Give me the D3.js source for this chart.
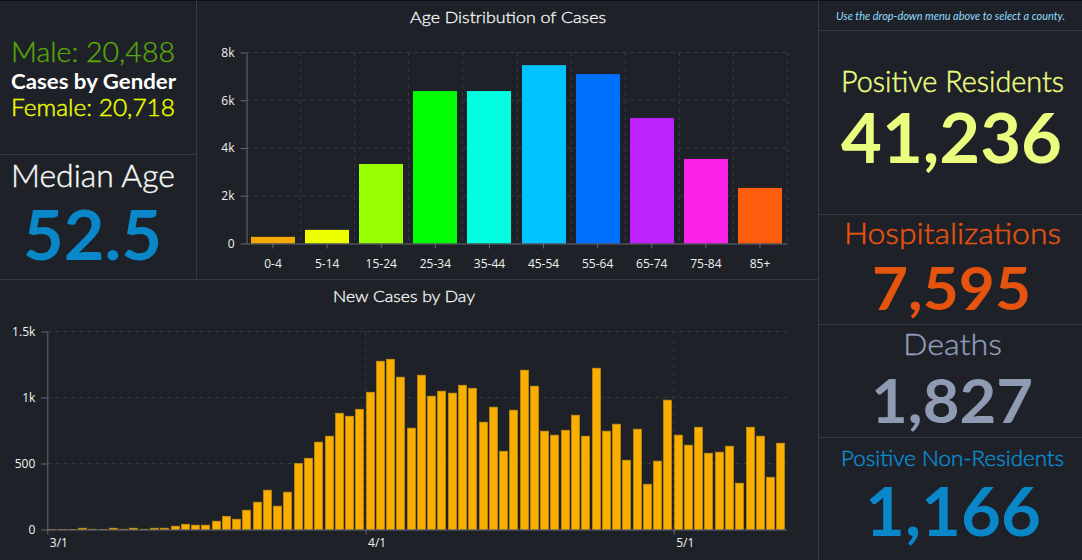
<!DOCTYPE html>
<html>
<head>
<meta charset="utf-8">
<script src="https://cdn.jsdelivr.net/npm/d3@7"></script>
<style>
  html, body { margin: 0; padding: 0; background: #1f2129; overflow: hidden; }
  svg { display: block; font-family: Lato, "Open Sans", sans-serif; }
  .grid line { stroke: #363942; stroke-dasharray: 4 4; }
  .axis path, .axis line { stroke: #666a75; }
  .axis text { fill: #eef3ee; font-size: 12px; font-family: "Open Sans", sans-serif; }
  .rule { stroke: #363942; }
</style>
</head>
<body>
<div id="container"></div>
<script>
/* DATA */
const ageGroups = ["0-4", "5-14", "15-24", "25-34", "35-44", "45-54", "55-64", "65-74", "75-84", "85+"];
const ageCases = [279, 571, 3331, 6384, 6384, 7470, 7095, 5255, 3540, 2328];
const ageTicks = [0, 2000, 4000, 6000, 8000];
const ageTickLabels = ["0", "2k", "4k", "6k", "8k"];

const dailyCases = [
  1, 1, 1, 10, 2, 1, 10, 2, 10, 2, 10, 10, 25, 40, 33, 33, 63, 100, 78, 146, 207, 298, 177, 283, 500, 540, 662, 707, 881, 858, 911,
  1040, 1275, 1290, 1154, 768, 1169, 1010, 1048, 1033, 1093, 1070, 813, 927, 593, 904, 1207, 1086, 745, 715, 752, 866, 707, 1222, 745, 798, 525, 760, 343, 518, 980,
  715, 639, 775, 578, 586, 631, 351, 775, 707, 396, 654
];
const dayTicks = [0, 500, 1000, 1500];
const dayTickLabels = ["0", "500", "1k", "1.5k"];
const monthTicks = ["2020-03-01", "2020-04-01", "2020-05-01"];
const monthTickLabels = ["3/1", "4/1", "5/1"];

const labels = ["Male: 20,488", "Cases by Gender", "Female: 20,718", "Median Age", "52.5",
  "Age Distribution of Cases", "New Cases by Day", "Use the drop-down menu above to select a county.",
  "Positive Residents", "41,236", "Hospitalizations", "7,595", "Deaths", "1,827", "Positive Non-Residents", "1,166"];

/* CONSTANTS AND GLOBALS */
const width = 1082, height = 560;
const ageColors = ["#f5a800", "#eeff00", "#97ff00", "#00ff00", "#00ffe1", "#00c3ff", "#0070ff", "#bd22ff", "#fa22e6", "#ff5c0d"];
const parseDay = d3.utcParse("%Y-%m-%d");

const svg = d3.select("#container")
  .append("svg")
  .attr("width", width)
  .attr("height", height);

// PANEL RULES
const rules = [[0, 0.5, 1082, 0.5, "#0c0d10"], [196.5, 0, 196.5, 279], [0, 154.5, 196, 154.5], [0, 279.5, 818, 279.5], [818.5, 0, 818.5, 560],
  [818, 30.5, 1082, 30.5], [818, 214.5, 1082, 214.5], [818, 324.5, 1082, 324.5], [818, 437.5, 1082, 437.5]];
svg.selectAll(".rule")
  .data(rules)
  .join("line")
  .attr("class", "rule")
  .attr("x1", d => d[0]).attr("y1", d => d[1])
  .attr("x2", d => d[2]).attr("y2", d => d[3])
  .style("stroke", d => d[4] || null);

// AGE CHART
const ageX = d3.scaleBand()
  .domain(ageGroups)
  .range([246, 787])
  .paddingInner(0.185)
  .paddingOuter(0.0925);

const ageY = d3.scaleLinear()
  .domain([0, 8000])
  .range([243.5, 52.5]);

const ageStep = ageX.step();
svg.append("g").attr("class", "grid")
  .selectAll("line")
  .data(ageTicks.slice(1))
  .join("line")
  .attr("x1", 246.5).attr("x2", 787.5)
  .attr("y1", d => ageY(d)).attr("y2", d => ageY(d));

svg.append("g").attr("class", "grid")
  .selectAll("line")
  .data(ageGroups)
  .join("line")
  .attr("x1", d => Math.round(ageX(d) + ageX.bandwidth() + (ageStep - ageX.bandwidth()) / 2) + 0.5)
  .attr("x2", d => Math.round(ageX(d) + ageX.bandwidth() + (ageStep - ageX.bandwidth()) / 2) + 0.5)
  .attr("y1", 52.5).attr("y2", 243.5);

svg.selectAll(".age-bar")
  .data(ageGroups)
  .join("rect")
  .attr("class", "age-bar")
  .attr("x", d => Math.round(ageX(d)))
  .attr("width", 44)
  .attr("y", (d, i) => ageY(ageCases[i]))
  .attr("height", (d, i) => ageY(0) - ageY(ageCases[i]))
  .attr("fill", (d, i) => ageColors[i]);

svg.append("g")
  .attr("class", "axis")
  .attr("transform", "translate(0,243.5)")
  .call(d3.axisBottom(ageX).tickSize(5).tickPadding(11).tickSizeOuter(0));

svg.append("g")
  .attr("class", "axis")
  .attr("transform", "translate(246.5,0)")
  .call(d3.axisLeft(ageY).tickValues(ageTicks).tickFormat((d, i) => ageTickLabels[i]).tickSize(6).tickPadding(6).tickSizeOuter(0));

// DAILY CHART
const dayX = d3.scaleUtc()
  .domain([parseDay("2020-03-01"), d3.utcDay.offset(parseDay("2020-03-01"), dailyCases.length)])
  .range([47.3, 786.6]);

const dayY = d3.scaleLinear()
  .domain([0, 1500])
  .range([529.5, 331.5]);

const days = dailyCases.map((d, i) => ({ day: d3.utcDay.offset(parseDay("2020-03-01"), i), cases: d }));

svg.append("g").attr("class", "grid")
  .selectAll("line")
  .data(dayTicks.slice(1))
  .join("line")
  .attr("x1", 47.3).attr("x2", 786.6)
  .attr("y1", d => dayY(d)).attr("y2", d => dayY(d));

svg.append("g").attr("class", "grid")
  .selectAll("line")
  .data(monthTicks.slice(1))
  .join("line")
  .attr("x1", d => dayX(parseDay(d))).attr("x2", d => dayX(parseDay(d)))
  .attr("y1", 331.5).attr("y2", 529.5);

svg.selectAll(".day-bar")
  .data(days)
  .join("rect")
  .attr("class", "day-bar")
  .attr("x", d => Math.round(dayX(d.day)) + 0.5)
  .attr("width", 8)
  .attr("y", d => dayY(d.cases))
  .attr("height", d => dayY(0) - dayY(d.cases))
  .attr("fill", "#f9ae00")
  .attr("stroke", "#c4900f")
  .attr("stroke-width", 0.7);

const dayAxis = svg.append("g")
  .attr("class", "axis")
  .attr("transform", "translate(0,529.5)")
  .call(d3.axisBottom(dayX).tickValues(monthTicks.map(parseDay)).tickFormat((d, i) => monthTickLabels[i]).tickSize(5).tickPadding(4).tickSizeOuter(0));
dayAxis.selectAll("text").attr("text-anchor", "start").attr("dx", 2);

svg.append("g")
  .attr("class", "axis")
  .attr("transform", "translate(47.3,0)")
  .call(d3.axisLeft(dayY).tickValues(dayTicks).tickFormat((d, i) => dayTickLabels[i]).tickSize(6).tickPadding(6).tickSizeOuter(0));

// PANEL TEXT: label index, left x, right x, baseline, font size, weight, colour, outline
const textRows = [
  [0, 11, 175, 62, 28, 300, "#58a80a", 0.35],
  [1, 11, 176, 89, 20, 700, "#ffffff", 0],
  [2, 11, 175, 116, 24, 300, "#eeff00", 0.45],
  [3, 11, 175, 187, 31, 300, "#f5faf5", 0.4],
  [4, 23, 162, 260, 68, 700, "#0a87c8", 0],
  [5, 410, 606, 23, 16.5, 300, "#f5faf5", 0.3],
  [6, 333, 475, 302, 16, 300, "#f5faf5", 0.3],
  [8, 841, 1064, 92, 29, 300, "#eeff80", 0.45],
  [9, 841, 1062, 163, 68, 700, "#ebfd7f", 0],
  [10, 844, 1061, 244, 30, 300, "#e5540e", 0.45],
  [11, 872, 1031, 310, 60, 700, "#e5540e", 0],
  [12, 903, 1002, 355, 30, 300, "#8f9fba", 0.35],
  [13, 871, 1033, 423, 62, 700, "#8f9bb3", 0],
  [14, 841, 1064, 466, 22, 300, "#0a8fd4", 0.4],
  [15, 865, 1041, 536, 66, 700, "#0a87c8", 0]
];

svg.selectAll(".panel-text")
  .data(textRows)
  .join("text")
  .attr("class", "panel-text")
  .attr("x", d => d[1])
  .attr("y", d => d[3])
  .attr("font-size", d => d[4])
  .attr("font-weight", d => d[5])
  .attr("fill", d => d[6])
  .attr("stroke", d => d[6])
  .attr("stroke-width", d => d[7])
  .attr("textLength", d => d[2] - d[1])
  .attr("lengthAdjust", "spacingAndGlyphs")
  .text(d => labels[d[0]]);

svg.append("text")
  .attr("x", 836)
  .attr("y", 20)
  .attr("font-size", 11)
  .attr("font-style", "italic")
  .attr("fill", "#8fdcff")
  .attr("textLength", 229)
  .attr("lengthAdjust", "spacingAndGlyphs")
  .text(labels[7]);
</script>
</body>
</html>
